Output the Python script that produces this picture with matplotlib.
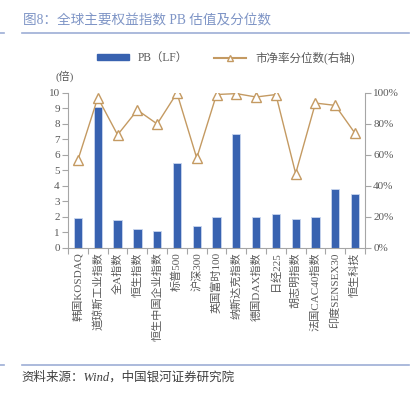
import matplotlib.pyplot as plt
import matplotlib.lines as mlines
import matplotlib.patches as mpatches
import numpy as np

plt.rcParams['font.family'] = ['Liberation Serif', 'Noto Sans CJK SC']

# 数据
indices = ['韩国KOSDAQ', '道琼斯工业指数', '全A指数', '恒生指数', '恒生中国企业指数',
           '标普500', '沪深300', '英国富时100', '纳斯达克指数', '德国DAX指数',
           '日经225', '胡志明指数', '法国CAC40指数', '印度SENSEX30', '恒生科技']
pb = [1.95, 9.1, 1.78, 1.2, 1.08, 5.48, 1.44, 2.0, 7.33, 2.0, 2.19, 1.87, 2.0, 3.83, 3.48]
pct = [57, 97, 73, 89, 80, 100, 58, 99, 99.6, 97.4, 99, 48, 93.5, 92, 74]

c_bar = '#3862B0'
c_line = '#C49A62'
c_axis = '#A6A6A6'
c_txt = '#595959'

fig = plt.figure(figsize=(4.18, 3.94), dpi=100)
ax = fig.add_axes([0.163, 0.3706, 0.71, 0.3934])
x = np.arange(len(indices))

ax.bar(x, pb, width=0.42, color=c_bar, edgecolor='#C9D6EE', linewidth=0.6, zorder=2)
ax.set_ylim(0, 10)
ax.set_xlim(-0.5, len(indices) - 0.5)
ax.set_yticks(range(0, 11))
ax.set_xticks(np.arange(-0.5, len(indices), 1.0))
ax.set_xticklabels([])
ax.set_xticks(x, minor=True)
ax.set_xticklabels(indices, minor=True, rotation=90, fontsize=8, color=c_txt)
ax.tick_params(axis='x', which='minor', length=0, pad=3)
ax.tick_params(axis='x', which='major', length=4, color=c_axis)
ax.tick_params(axis='y', length=4, color=c_axis, labelsize=8, labelcolor=c_txt, pad=2)
for s in ['top', 'right']:
    ax.spines[s].set_visible(False)
ax.spines['left'].set_color(c_axis)
ax.spines['bottom'].set_color(c_axis)

ax2 = ax.twinx()
ax2.plot(x, pct, color=c_line, linewidth=1.0, marker='^', markersize=7,
         markerfacecolor='white', markeredgecolor=c_line, markeredgewidth=1.0, zorder=3)
ax2.set_ylim(0, 100)
ax2.set_yticks(range(0, 101, 20))
ax2.set_yticklabels([f'{v}%' for v in range(0, 101, 20)])
ax2.tick_params(axis='y', length=4, color=c_axis, labelsize=8, labelcolor=c_txt, pad=2)
for s in ['top', 'left', 'bottom']:
    ax2.spines[s].set_visible(False)
ax2.spines['right'].set_color(c_axis)

# 单位
fig.text(0.132, 0.797, '(倍)', fontsize=8, color=c_txt)

# 图例
h1 = mpatches.Patch(color=c_bar, label='PB（LF）')
h2 = mlines.Line2D([], [], color=c_line, marker='^', markersize=5,
                   markerfacecolor='white', label='市净率分位数(右轴)')
fig.legend(handles=[h1, h2], loc='center', bbox_to_anchor=(0.54, 0.853), ncol=2,
           frameon=False, fontsize=8.3, handlelength=2.8, handleheight=0.5,
           columnspacing=2.2, labelcolor=c_txt)

# 标题
fig.text(0.055, 0.946, '图8：全球主要权益指数 PB 估值及分位数', fontsize=9.8,
         color='#7F95C6', va='center')
fig.add_artist(mlines.Line2D([0.052, 0.978], [0.916, 0.916], color='#9DAED6', linewidth=1.2))
fig.add_artist(mlines.Line2D([0.0, 0.01], [0.916, 0.916], color='#9DAED6', linewidth=1.2))

# 来源
fig.add_artist(mlines.Line2D([0.052, 0.978], [0.074, 0.074], color='#9DAED6', linewidth=1.2))
fig.add_artist(mlines.Line2D([0.0, 0.01], [0.074, 0.074], color='#9DAED6', linewidth=1.2))
fig.text(0.052, 0.043, '资料来源：Wind，中国银河证券研究院', fontsize=9, color='#404040',
         style='italic', va='center')

fig.savefig('out.png', dpi=100)
